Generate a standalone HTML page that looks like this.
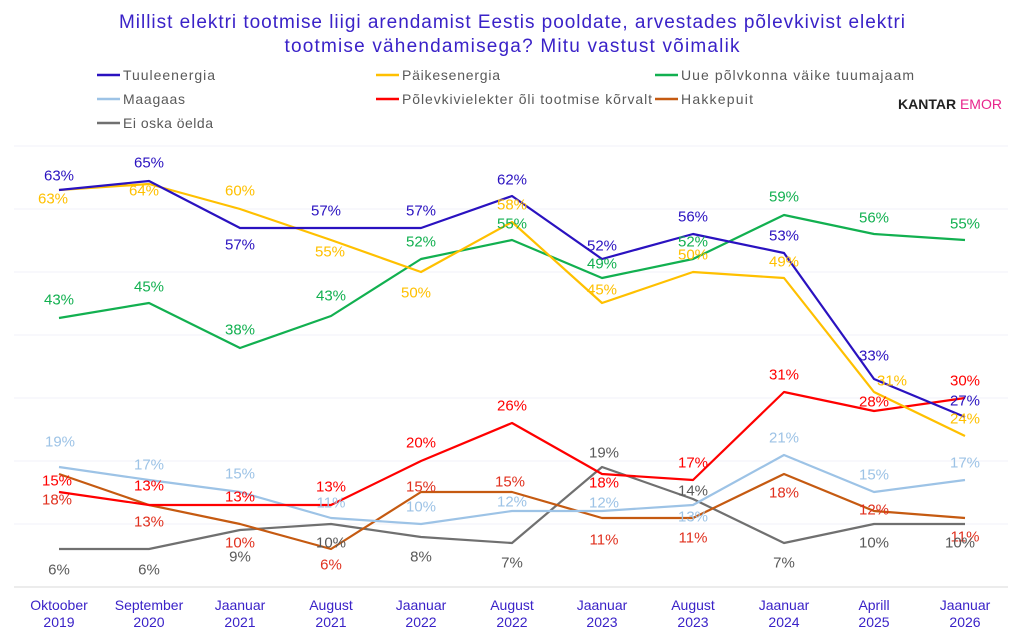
<!DOCTYPE html>
<html><head><meta charset="utf-8"><style>
html,body{margin:0;padding:0;background:#fff;}
svg{display:block;font-family:"Liberation Sans",sans-serif;}
</style></head><body>
<svg width="1024" height="639" viewBox="0 0 1024 639">
<text x="512" y="28" text-anchor="middle" font-size="19" textLength="786" lengthAdjust="spacing" fill="#3a22c8">Millist elektri tootmise liigi arendamist Eestis pooldate, arvestades põlevkivist elektri</text>
<text x="512" y="52" text-anchor="middle" font-size="19" textLength="455" lengthAdjust="spacing" fill="#3a22c8">tootmise vähendamisega? Mitu vastust võimalik</text>
<g font-size="14" fill="#595959">
<line x1="97" y1="75" x2="120" y2="75" stroke="#2a12c0" stroke-width="2.5"/><text x="123" y="80" textLength="92">Tuuleenergia</text>
<line x1="97" y1="99" x2="120" y2="99" stroke="#9dc3e6" stroke-width="2.5"/><text x="123" y="104" textLength="62">Maagaas</text>
<line x1="97" y1="123" x2="120" y2="123" stroke="#707070" stroke-width="2.5"/><text x="123" y="128" textLength="90">Ei oska öelda</text>
<line x1="376" y1="75" x2="399" y2="75" stroke="#ffc000" stroke-width="2.5"/><text x="402" y="80" textLength="98">Päikesenergia</text>
<line x1="376" y1="99" x2="399" y2="99" stroke="#ff0000" stroke-width="2.5"/><text x="402" y="104" textLength="250">Põlevkivielekter õli tootmise kõrvalt</text>
<line x1="655" y1="75" x2="678" y2="75" stroke="#12b050" stroke-width="2.5"/><text x="681" y="80" textLength="233">Uue põlvkonna väike tuumajaam</text>
<line x1="655" y1="99" x2="678" y2="99" stroke="#c55a11" stroke-width="2.5"/><text x="681" y="104" textLength="72">Hakkepuit</text>
</g>
<text x="898" y="109" font-size="14" font-weight="bold" fill="#222">KANTAR <tspan fill="#e8248c" font-weight="normal">EMOR</tspan></text>
<g stroke="#f0f1f9" stroke-width="1">
<line x1="14" y1="146" x2="1008" y2="146"/><line x1="14" y1="209" x2="1008" y2="209"/><line x1="14" y1="272" x2="1008" y2="272"/><line x1="14" y1="335" x2="1008" y2="335"/><line x1="14" y1="398" x2="1008" y2="398"/><line x1="14" y1="461" x2="1008" y2="461"/><line x1="14" y1="524" x2="1008" y2="524"/>
</g>
<line x1="14" y1="587" x2="1008" y2="587" stroke="#d9d9d9"/>
<g fill="none" stroke-width="2.2" stroke-linejoin="round">
<polyline stroke="#707070" points="59,549 149,549 240,530 331,524 421,537 512,543 602,467 693,499 784,543 874,524 965,524"/>
<polyline stroke="#c55a11" points="59,474 149,505 240,524 331,549 421,492 512,492 602,518 693,518 784,474 874,511 965,518"/>
<polyline stroke="#9dc3e6" points="59,467 149,480 240,492 331,518 421,524 512,511 602,511 693,505 784,455 874,492 965,480"/>
<polyline stroke="#ff0000" points="59,492 149,505 240,505 331,505 421,461 512,423 602,474 693,480 784,392 874,411 965,398"/>
<polyline stroke="#12b050" points="59,318 149,303 240,348 331,316 421,259 512,240 602,278 693,259 784,215 874,234 965,240"/>
<polyline stroke="#ffc000" points="59,190 149,184 240,209 331,240 421,272 512,222 602,303 693,272 784,278 874,392 965,436"/>
<polyline stroke="#2a12c0" points="59,190 149,181 240,228 331,228 421,228 512,196 602,259 693,234 784,253 874,379 965,417"/>
</g>
<g font-size="15" text-anchor="middle" dominant-baseline="central">
<g fill="#2a12c0"><text x="59" y="176">63%</text><text x="149" y="163">65%</text><text x="240" y="245">57%</text><text x="326" y="211">57%</text><text x="421" y="211">57%</text><text x="512" y="180">62%</text><text x="602" y="246">52%</text><text x="693" y="217">56%</text><text x="784" y="236">53%</text><text x="874" y="356">33%</text><text x="965" y="401">27%</text></g>
<g fill="#ffc000"><text x="53" y="199">63%</text><text x="144" y="191">64%</text><text x="240" y="191">60%</text><text x="330" y="252">55%</text><text x="416" y="293">50%</text><text x="512" y="205">58%</text><text x="602" y="290">45%</text><text x="693" y="255">50%</text><text x="784" y="262">49%</text><text x="892" y="381">31%</text><text x="965" y="419">24%</text></g>
<g fill="#12b050"><text x="59" y="300">43%</text><text x="149" y="287">45%</text><text x="240" y="330">38%</text><text x="331" y="296">43%</text><text x="421" y="242">52%</text><text x="512" y="224">55%</text><text x="602" y="264">49%</text><text x="693" y="242">52%</text><text x="784" y="197">59%</text><text x="874" y="218">56%</text><text x="965" y="224">55%</text></g>
<g fill="#9dc3e6"><text x="60" y="442">19%</text><text x="149" y="465">17%</text><text x="240" y="474">15%</text><text x="331" y="503">11%</text><text x="421" y="507">10%</text><text x="512" y="502">12%</text><text x="604" y="503">12%</text><text x="693" y="517">13%</text><text x="784" y="438">21%</text><text x="874" y="475">15%</text><text x="965" y="463">17%</text></g>
<g fill="#ff0000"><text x="57" y="481">15%</text><text x="149" y="486">13%</text><text x="240" y="497">13%</text><text x="331" y="487">13%</text><text x="421" y="443">20%</text><text x="512" y="406">26%</text><text x="604" y="483">18%</text><text x="693" y="463">17%</text><text x="784" y="375">31%</text><text x="874" y="402">28%</text><text x="965" y="381">30%</text></g>
<g fill="#e0301e"><text x="57" y="500">18%</text><text x="149" y="522">13%</text><text x="240" y="543">10%</text><text x="331" y="565">6%</text><text x="421" y="487">15%</text><text x="510" y="482">15%</text><text x="604" y="540">11%</text><text x="693" y="538">11%</text><text x="784" y="493">18%</text><text x="874" y="510">12%</text><text x="965" y="537">11%</text></g>
<g fill="#595959"><text x="59" y="570">6%</text><text x="149" y="570">6%</text><text x="240" y="557">9%</text><text x="331" y="543">10%</text><text x="421" y="557">8%</text><text x="512" y="563">7%</text><text x="604" y="453">19%</text><text x="693" y="491">14%</text><text x="784" y="563">7%</text><text x="874" y="543">10%</text><text x="960" y="543">10%</text></g>
</g>
<g font-size="14" fill="#3a22c8" text-anchor="middle">
<text x="59" y="610">Oktoober</text><text x="59" y="627">2019</text>
<text x="149" y="610">September</text><text x="149" y="627">2020</text>
<text x="240" y="610">Jaanuar</text><text x="240" y="627">2021</text>
<text x="331" y="610">August</text><text x="331" y="627">2021</text>
<text x="421" y="610">Jaanuar</text><text x="421" y="627">2022</text>
<text x="512" y="610">August</text><text x="512" y="627">2022</text>
<text x="602" y="610">Jaanuar</text><text x="602" y="627">2023</text>
<text x="693" y="610">August</text><text x="693" y="627">2023</text>
<text x="784" y="610">Jaanuar</text><text x="784" y="627">2024</text>
<text x="874" y="610">Aprill</text><text x="874" y="627">2025</text>
<text x="965" y="610">Jaanuar</text><text x="965" y="627">2026</text>
</g>
</svg>
</body></html>
